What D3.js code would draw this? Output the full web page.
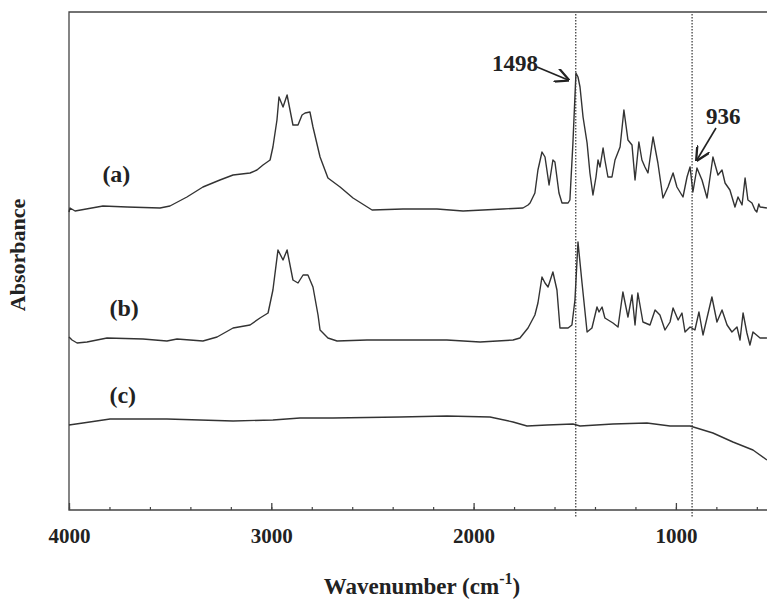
<!DOCTYPE html>
<html>
<head>
<meta charset="utf-8">
<script src="https://cdn.jsdelivr.net/npm/d3@7"></script>
<style>
  body { margin: 0; background: #fff; }
  svg { display: block; }
  text { font-family: "Liberation Serif", "Times New Roman", serif; font-weight: bold; fill: #222; }
</style>
</head>
<body>
<div id="main"></div>
<script>
// spectra (stacked, arbitrary absorbance units)
var waveA = [4000, 3995, 3970, 3832, 3713, 3550, 3501, 3417, 3338, 3254, 3189, 3105, 3071, 3041, 3006, 2992, 2972, 2962, 2942, 2922, 2893, 2868, 2848, 2833, 2809, 2794, 2759, 2720, 2660, 2596, 2502, 2349, 2181, 2052, 1855, 1756, 1731, 1721, 1697, 1682, 1662, 1647, 1627, 1608, 1598, 1578, 1563, 1533, 1524, 1509, 1494, 1484, 1474, 1459, 1439, 1425, 1410, 1395, 1385, 1375, 1360, 1351, 1336, 1316, 1301, 1276, 1257, 1237, 1217, 1202, 1183, 1168, 1153, 1138, 1113, 1089, 1064, 1039, 1014, 995, 980, 965, 945, 930, 916, 896, 871, 846, 817, 792, 772, 757, 733, 708, 693, 673, 658, 644, 624, 609, 600, 590, 584, 550];
var absA = [2.98, 3.02, 2.99, 3.04, 3.03, 3.02, 3.04, 3.13, 3.23, 3.30, 3.35, 3.37, 3.40, 3.45, 3.50, 3.63, 3.90, 4.13, 4.03, 4.15, 3.85, 3.85, 3.95, 3.97, 3.98, 3.83, 3.53, 3.32, 3.23, 3.12, 3.00, 3.01, 3.01, 2.99, 3.01, 3.02, 3.05, 3.07, 3.17, 3.40, 3.58, 3.53, 3.25, 3.50, 3.48, 3.17, 3.07, 3.07, 3.10, 3.67, 4.37, 4.33, 4.23, 3.93, 3.67, 3.37, 3.15, 3.33, 3.50, 3.43, 3.62, 3.50, 3.33, 3.33, 3.50, 3.63, 4.00, 3.70, 3.65, 3.30, 3.68, 3.50, 3.43, 3.37, 3.73, 3.47, 3.12, 3.23, 3.37, 3.23, 3.18, 3.13, 3.33, 3.43, 3.18, 3.42, 3.30, 3.12, 3.53, 3.35, 3.40, 3.27, 3.20, 3.03, 3.13, 3.05, 3.32, 3.10, 3.07, 3.00, 2.98, 3.06, 3.03, 3.02];

var waveB = [4000, 3985, 3960, 3911, 3812, 3634, 3516, 3466, 3338, 3268, 3189, 3105, 3056, 3016, 2992, 2967, 2942, 2922, 2893, 2868, 2843, 2819, 2794, 2769, 2759, 2720, 2675, 2527, 2364, 2132, 1968, 1805, 1771, 1731, 1697, 1682, 1662, 1647, 1632, 1608, 1588, 1573, 1533, 1514, 1499, 1484, 1464, 1439, 1415, 1390, 1380, 1365, 1351, 1311, 1286, 1262, 1237, 1217, 1202, 1188, 1163, 1128, 1103, 1079, 1054, 1029, 1014, 989, 970, 955, 930, 906, 886, 866, 822, 797, 772, 747, 723, 698, 683, 668, 649, 634, 619, 584, 550];
var absB = [1.73, 1.70, 1.67, 1.68, 1.72, 1.71, 1.69, 1.71, 1.69, 1.73, 1.82, 1.85, 1.92, 1.97, 2.20, 2.60, 2.50, 2.60, 2.30, 2.27, 2.35, 2.35, 2.23, 1.95, 1.80, 1.72, 1.69, 1.70, 1.70, 1.70, 1.68, 1.70, 1.72, 1.82, 1.95, 2.07, 2.33, 2.27, 2.23, 2.38, 2.20, 1.82, 1.82, 1.85, 2.10, 2.68, 2.27, 1.78, 1.82, 2.03, 1.98, 2.03, 1.92, 1.87, 1.83, 2.18, 1.93, 2.15, 1.85, 2.17, 1.88, 1.85, 2.00, 1.95, 1.80, 1.88, 2.02, 1.90, 1.97, 1.78, 1.83, 1.80, 1.98, 1.75, 2.13, 1.88, 2.00, 1.85, 1.78, 1.83, 1.70, 1.97, 1.77, 1.65, 1.78, 1.72, 1.72];

var waveC = [4000, 3931, 3797, 3516, 3189, 2992, 2858, 2695, 2364, 2132, 1919, 1805, 1736, 1637, 1509, 1474, 1311, 1143, 1029, 930, 817, 718, 619, 550];
var absC = [0.85, 0.87, 0.91, 0.91, 0.89, 0.90, 0.92, 0.92, 0.93, 0.94, 0.93, 0.88, 0.84, 0.85, 0.86, 0.84, 0.86, 0.87, 0.84, 0.84, 0.77, 0.68, 0.60, 0.50];

var seriesLabels = ["(a)", "(b)", "(c)"];
var labelWave = [3835, 3800, 3800];
var labelAbs = [3.28, 1.94, 1.07];

var majorTicks = [4000, 3000, 2000, 1000];
var markerLines = [1495, 920];
var markerText = ["1498", "936"];

var width = 767, height = 601;
var margin = { left: 69, top: 12, bottom: 91 };

var svg = d3.select("#main").append("svg")
    .attr("width", width)
    .attr("height", height);

var x = d3.scaleLinear().domain([4000, 400]).range([margin.left, margin.left + 3600 * 0.2023]);
var y = d3.scaleLinear().domain([0, 4.98]).range([height - margin.bottom, margin.top]);

var x0 = x(4000), x1 = x(400), yb = y(0), yt = y(4.98);

// frame
var frame = svg.append("g").attr("stroke", "#444").attr("stroke-width", 1.3).attr("fill", "none");
frame.append("path").attr("d", `M${x1},${yt}H${x0}V${yb}H${x1}`);

// ticks pointing inward
var minorAxis = d3.axisBottom(x)
    .tickValues(d3.range(4000, 500, -200))
    .tickSize(-3)
    .tickFormat("");
svg.append("g").attr("transform", `translate(0,${yb})`).call(minorAxis)
    .call(g => g.select(".domain").remove())
    .selectAll("line").attr("stroke", "#444").attr("stroke-width", 1.2);

var majorAxis = d3.axisBottom(x)
    .tickValues(majorTicks)
    .tickSize(-7)
    .tickPadding(18)
    .tickFormat(d3.format("d"));
svg.append("g").attr("transform", `translate(0,${yb})`).call(majorAxis)
    .call(g => g.select(".domain").remove())
    .call(g => g.selectAll("line").attr("stroke", "#444").attr("stroke-width", 1.3))
    .selectAll("text")
    .attr("font-family", "Liberation Serif, Times New Roman, serif")
    .attr("font-weight", "bold")
    .attr("font-size", 21)
    .attr("fill", "#222");

// dotted marker lines
svg.append("g").selectAll("line").data(markerLines).enter().append("line")
    .attr("x1", d => x(d)).attr("x2", d => x(d))
    .attr("y1", yt + 2).attr("y2", yb + 8)
    .attr("stroke", "#333")
    .attr("stroke-width", 1.2)
    .attr("stroke-dasharray", "1.5,1.5");

// spectra
var line = d3.line().x(d => x(d[0])).y(d => y(d[1]));
var spectra = [d3.zip(waveA, absA), d3.zip(waveB, absB), d3.zip(waveC, absC)];
svg.append("g").selectAll("path").data(spectra).enter().append("path")
    .attr("d", line)
    .attr("fill", "none")
    .attr("stroke", "#333")
    .attr("stroke-width", 1.4)
    .attr("stroke-linejoin", "round");

// series labels
svg.append("g").selectAll("text").data(seriesLabels).enter().append("text")
    .attr("x", (d, i) => x(labelWave[i]))
    .attr("y", (d, i) => y(labelAbs[i]))
    .attr("font-size", 24)
    .text(d => d);

// annotations with arrows
svg.append("defs").append("marker")
    .attr("id", "arrow")
    .attr("viewBox", "0 0 10 10")
    .attr("refX", 9).attr("refY", 5)
    .attr("markerWidth", 9).attr("markerHeight", 9)
    .attr("orient", "auto")
    .append("path")
    .attr("d", "M0,0L10,5L0,10")
    .attr("fill", "none")
    .attr("stroke", "#222")
    .attr("stroke-width", 1.6);

svg.append("text").attr("x", 492).attr("y", 71).attr("font-size", 23).text(markerText[0]);
svg.append("line")
    .attr("x1", 537).attr("y1", 67)
    .attr("x2", x(1498) - 7).attr("y2", y(4.30))
    .attr("stroke", "#222").attr("stroke-width", 1.6)
    .attr("marker-end", "url(#arrow)");

svg.append("text").attr("x", 706).attr("y", 124).attr("font-size", 23).text(markerText[1]);
svg.append("line")
    .attr("x1", 716).attr("y1", 128)
    .attr("x2", x(936) + 8).attr("y2", y(3.50))
    .attr("stroke", "#222").attr("stroke-width", 1.6)
    .attr("marker-end", "url(#arrow)");

// axis titles
var xt = svg.append("text")
    .attr("x", 422)
    .attr("y", 594)
    .attr("text-anchor", "middle")
    .attr("font-size", 23);
xt.append("tspan").text("Wavenumber (cm");
xt.append("tspan").attr("dy", -10).attr("font-size", 16).text("-1");
xt.append("tspan").attr("dy", 10).text(")");

svg.append("text")
    .attr("transform", "translate(25,255) rotate(-90)")
    .attr("text-anchor", "middle")
    .attr("font-size", 22)
    .text("Absorbance");
</script>
</body>
</html>
